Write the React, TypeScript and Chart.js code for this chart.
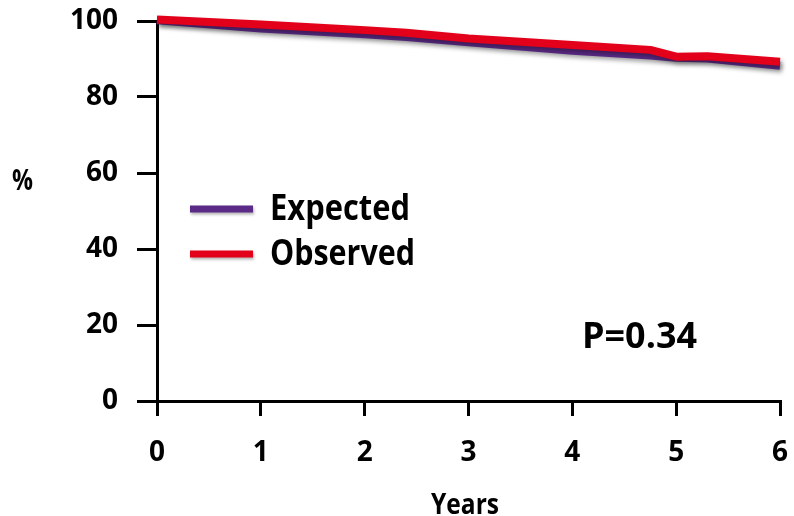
import React, { useEffect, useRef } from "react";
import { Chart, registerables } from "chart.js";

Chart.register(...registerables);

// ---- data ----
const years = [0, 1, 2, 2.4, 3, 4, 4.75, 5, 5.3, 6];
const expected = [100.2, 98.0, 96.5, 95.8, 94.4, 92.2, 90.9, 90.3, 90.1, 88.2];
const observed = [100.4, 99.1, 97.6, 96.9, 95.4, 93.7, 92.4, 90.6, 90.7, 89.3];
const seriesLabels = ["Expected", "Observed"];
const seriesColors = ["#5B2A86", "#E2001A"];
const xTicks = [0, 1, 2, 3, 4, 5, 6];
const yTicks = [0, 20, 40, 60, 80, 100];
const xTitle = "Years";
const yTitle = "%";
const pLabel = "P=0.34";

const FONT = '"Open Sans", "Liberation Sans", sans-serif';

function fitText(ctx: CanvasRenderingContext2D, text: string, left: number, baseline: number, size: number, width: number) {
  ctx.save();
  ctx.font = `bold ${size}px ${FONT}`;
  ctx.textAlign = "left";
  ctx.textBaseline = "alphabetic";
  ctx.fillStyle = "#000";
  const w = ctx.measureText(text).width;
  ctx.translate(left, baseline);
  ctx.scale(width / w, 1);
  ctx.fillText(text, 0, 0);
  ctx.restore();
}

const shadowPlugin = {
  id: "lineShadow",
  beforeDatasetsDraw(chart: any) {
    const ctx = chart.ctx;
    ctx.save();
    ctx.shadowColor = "rgba(0,0,0,0.35)";
    ctx.shadowBlur = 4;
    ctx.shadowOffsetX = 2;
    ctx.shadowOffsetY = 3;
  },
  afterDatasetsDraw(chart: any) {
    chart.ctx.restore();
  },
};

const annotPlugin = {
  id: "annot",
  afterDraw(chart: any) {
    const ctx: CanvasRenderingContext2D = chart.ctx;
    const legendRows = [
      { y: 209, baseline: 220, width: 140 },
      { y: 254, baseline: 265, width: 145 },
    ];
    chart.data.datasets.forEach((ds: any, i: number) => {
      const row = legendRows[i];
      ctx.save();
      ctx.shadowColor = "rgba(0,0,0,0.3)";
      ctx.shadowBlur = 3;
      ctx.shadowOffsetX = 1;
      ctx.shadowOffsetY = 2;
      ctx.strokeStyle = ds.borderColor;
      ctx.lineWidth = 7;
      ctx.lineCap = "butt";
      ctx.beginPath();
      ctx.moveTo(190, row.y);
      ctx.lineTo(253, row.y);
      ctx.stroke();
      ctx.restore();
      fitText(ctx, ds.label, 270, row.baseline, 36, row.width);
    });
    fitText(ctx, pLabel, 582, 348, 36, 115);
    fitText(ctx, xTitle, 431, 514, 29, 68);
    fitText(ctx, yTitle, 12, 190, 28, 21);
  },
};

function zeroPad(s: any) {
  s.paddingLeft = 0;
  s.paddingRight = 0;
  s.paddingTop = 0;
  s.paddingBottom = 0;
}

export default function App() {
  const ref = useRef<HTMLCanvasElement | null>(null);

  useEffect(() => {
    if (!ref.current) return;
    const tickFont = { family: FONT, weight: "bold" as const, size: 28 };
    const chart = new Chart(ref.current, {
      type: "line",
      data: {
        datasets: [
          {
            label: seriesLabels[0],
            data: years.map((x, i) => ({ x, y: expected[i] })),
            borderColor: seriesColors[0],
            backgroundColor: seriesColors[0],
            borderWidth: 8,
            pointRadius: 0,
            tension: 0,
            fill: false,
            order: 1,
            clip: false as any,
            borderJoinStyle: "round",
          },
          {
            label: seriesLabels[1],
            data: years.map((x, i) => ({ x, y: observed[i] })),
            borderColor: seriesColors[1],
            backgroundColor: seriesColors[1],
            borderWidth: 8,
            pointRadius: 0,
            tension: 0,
            fill: false,
            order: 0,
            clip: false as any,
            borderJoinStyle: "round",
          },
        ],
      },
      options: {
        animation: false,
        responsive: false,
        maintainAspectRatio: false,
        layout: { padding: { top: 21, right: 14, left: 0, bottom: 0 } },
        plugins: { legend: { display: false }, tooltip: { enabled: false } },
        scales: {
          x: {
            type: "linear",
            min: 0,
            max: 6,
            afterBuildTicks: (s: any) => {
              s.ticks = xTicks.map((v) => ({ value: v }));
            },
            afterFit: (s: any) => {
              s.height = 115;
              zeroPad(s);
            },
            ticks: { font: tickFont, color: "#000", padding: 20, maxRotation: 0, autoSkip: false },
            grid: { drawOnChartArea: false, drawTicks: true, tickLength: 15, color: "#000", lineWidth: 3 },
            border: { display: true, color: "#000", width: 3 },
          },
          y: {
            type: "linear",
            min: 0,
            max: 100,
            afterBuildTicks: (s: any) => {
              s.ticks = yTicks.map((v) => ({ value: v }));
            },
            afterFit: (s: any) => {
              s.width = 157;
              zeroPad(s);
            },
            ticks: { font: tickFont, color: "#000", padding: 19, autoSkip: false },
            grid: { drawOnChartArea: false, drawTicks: true, tickLength: 20, color: "#000", lineWidth: 3 },
            border: { display: true, color: "#000", width: 3 },
          },
        },
      },
      plugins: [shadowPlugin, annotPlugin],
    } as any);
    return () => chart.destroy();
  }, []);

  return (
    <div style={{ position: "fixed", left: 0, top: 0, width: 794, height: 516, background: "#fff" }}>
      <canvas ref={ref} width={794} height={516} style={{ display: "block", width: 794, height: 516 }} />
    </div>
  );
}
